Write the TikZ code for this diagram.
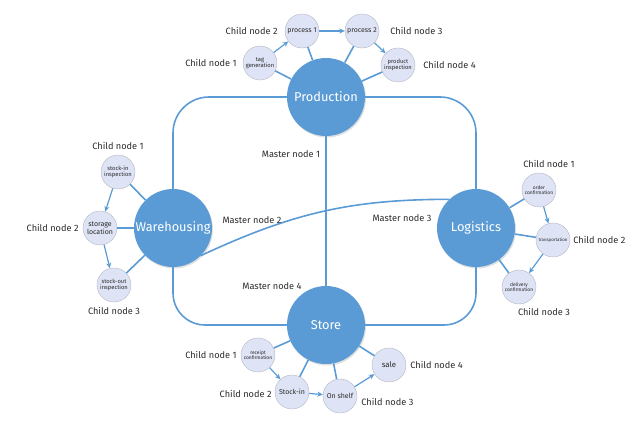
\documentclass[tikz,border=0pt]{standalone}
\usepackage{fontspec}
\setmainfont{Fira Sans}
\usetikzlibrary{positioning,arrows.meta,shadows}
\definecolor{mainblue}{HTML}{5B9BD5}
\definecolor{childfill}{HTML}{DEE3F5}
\definecolor{childline}{HTML}{B4B6C2}
\definecolor{labelgray}{HTML}{2B2B2B}
\tikzset{
    every node/.style={font=\fontsize{9.2}{10}\selectfont,text=labelgray},
    master/.style={circle,fill=mainblue,minimum size=78pt,inner sep=0pt,text=white,font=\fontsize{12.8}{14}\selectfont,drop shadow={opacity=0.25,shadow xshift=1pt,shadow yshift=-1.5pt}},
    child/.style={circle,draw=childline,fill=childfill,minimum size=34pt,inner sep=0pt,align=center,font=\fontsize{5.8}{6.3}\selectfont},
    bigchild/.style={child,font=\fontsize{7}{8}\selectfont},
    lbl/.style={inner sep=1pt},
    link/.style={draw=mainblue,line width=1.6pt},
    flow/.style={draw=mainblue,line width=1.2pt,-{Stealth[length=5.5pt,width=5pt]}}
}
\begin{document}
\begin{tikzpicture}[x=1pt,y=1pt]
    \useasboundingbox (0,0) rectangle (640,433);
    % master nodes
    \node[master] (prod) at (326,336) {Production};
    \node[master] (ware) at (173,205) {Warehousing};
    \node[master] (logi) at (476,205) {Logistics};
    \node[master] (store) at (326,108) {Store};
    \draw[link,rounded corners=36pt] (prod.west) -| (ware.north);
    \draw[link,rounded corners=36pt] (prod.east) -| (logi.north);
    \draw[link,rounded corners=32pt] (ware.south) |- (store.west);
    \draw[link,rounded corners=32pt] (logi.south) |- (store.east);
    \draw[link] (prod) -- (store);
    \draw[link] (ware.-45) to[out=25,in=180] (logi.133);
    \node[lbl] (m1) at (291,279) {Master node 1};
    \node[lbl] (m2) at (252,213) {Master node 2};
    \node[lbl] (m3) at (402,215) {Master node 3};
    \node[lbl] (m4) at (272,147) {Master node 4};
    % production
    \node[child] (tag) at (260,370) {tag\\generation};
    \node[bigchild] (proc1) at (302,402) {process 1};
    \node[bigchild] (proc2) at (362,402) {process 2};
    \node[child] (pinsp) at (398,368) {product\\inspection};
    \node[lbl,left=5pt of tag] (tagl) {Child node 1};
    \node[lbl,left=6pt of proc1] (proc1l) {Child node 2};
    \node[lbl,right=10pt of proc2] (proc2l) {Child node 3};
    \node[lbl,right=7pt of pinsp] (pinspl) {Child node 4};
    \draw[link] (prod) -- (tag);
    \draw[link] (prod) -- (proc1);
    \draw[link] (prod) -- (proc2);
    \draw[link] (prod) -- (pinsp);
    \draw[flow] (tag) -- (proc1);
    \draw[flow] (proc1) -- (proc2);
    \draw[flow] (proc2) -- (pinsp);
    % warehousing
    \node[child] (stin) at (118,261) {stock-in\\inspection};
    \node[bigchild] (stloc) at (100,205) {storage\\location};
    \node[child] (stout) at (114,148) {stock-out\\inspection};
    \node[lbl,above=4pt of stin] (stinl) {Child node 1};
    \node[lbl,left=3pt of stloc] (stlocl) {Child node 2};
    \node[lbl,below=4pt of stout] (stoutl) {Child node 3};
    \draw[link] (ware) -- (stin);
    \draw[link] (ware) -- (stloc);
    \draw[link] (ware) -- (stout);
    \draw[flow] (stin) -- (stloc);
    \draw[flow] (stloc) -- (stout);
    % logistics
    \node[child,font=\fontsize{4.9}{5.6}\selectfont] (order) at (539,243) {order\\confirmation};
    \node[child,font=\fontsize{4.4}{5}\selectfont] (trans) at (553,193) {transportation};
    \node[child,font=\fontsize{4.9}{5.6}\selectfont] (deliv) at (519,146) {delivery\\confirmation};
    \node[lbl,above=4pt of order,xshift=10pt] (orderl) {Child node 1};
    \node[lbl,right=2pt of trans] (transl) {Child node 2};
    \node[lbl,below=3pt of deliv,xshift=25pt] (delivl) {Child node 3};
    \draw[link] (logi) -- (order);
    \draw[link] (logi) -- (trans);
    \draw[link] (logi) -- (deliv);
    \draw[flow] (order) -- (trans);
    \draw[flow] (trans) -- (deliv);
    % store
    \node[child,font=\fontsize{4.9}{5.6}\selectfont] (recpt) at (258,78) {receipt\\confirmation};
    \node[bigchild] (stkin) at (292,41) {Stock-in};
    \node[bigchild] (shelf) at (340,37) {On shelf};
    \node[bigchild,font=\fontsize{7.8}{9}\selectfont] (sale) at (389,68) {sale};
    \node[lbl,left=3pt of recpt] (recptl) {Child node 1};
    \node[lbl,left=2pt of stkin,yshift=-2pt] (stkinl) {Child node 2};
    \node[lbl,right=3pt of shelf,yshift=-6pt] (shelfl) {Child node 3};
    \node[lbl,right=3pt of sale] (salel) {Child node 4};
    \draw[link] (store) -- (recpt);
    \draw[link] (store) -- (stkin);
    \draw[link] (store) -- (shelf);
    \draw[link] (store) -- (sale);
    \draw[flow] (recpt) -- (stkin);
    \draw[flow] (stkin) -- (shelf);
    \draw[flow] (shelf) -- (sale);
\end{tikzpicture}
\end{document}
